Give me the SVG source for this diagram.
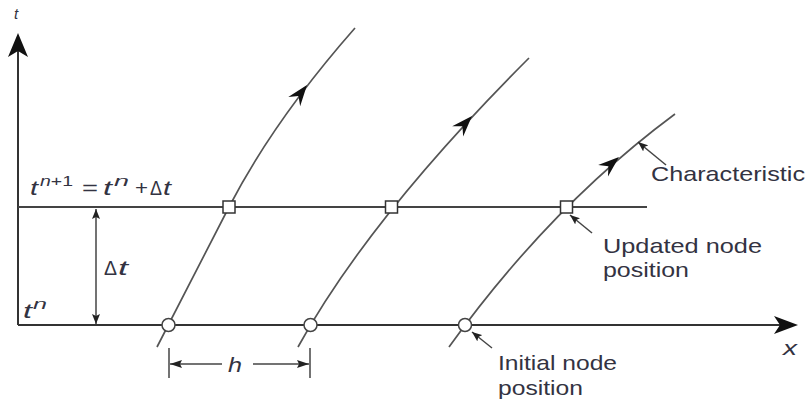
<svg xmlns="http://www.w3.org/2000/svg" xmlns:xlink="http://www.w3.org/1999/xlink" width="807" height="405" viewBox="0 0 807 405">
<style>
  .axis { stroke:#333; stroke-width:2; fill:none; }
  .grid { stroke:#444; stroke-width:1.8; fill:none; }
  .char { stroke:#555; stroke-width:1.7; fill:none; }
  .lead { stroke:#444; stroke-width:1.5; fill:none; }
  .dim { stroke:#444; stroke-width:1.5; fill:none; }
  .head { fill:#111; }
  .circ { fill:#fff; stroke:#444; stroke-width:1.5; }
  .sq { fill:#fff; stroke:#333; stroke-width:1.5; }
  text { font-family:"Liberation Sans", Arial, sans-serif; fill:#333342; }
  .lbl { font-size:21px; }
  .m { font-size:21px; }
  .it { font-style:italic; }
</style>
<defs>
  <path id="bigHead" d="M0,0 L-21,-7.5 L-14,0 L-21,7.5 Z"/>
  <marker id="sa" viewBox="0 0 10 8" refX="10" refY="4" markerWidth="10" markerHeight="8" markerUnits="userSpaceOnUse" orient="auto-start-reverse">
    <path d="M0,0 L10,4 L0,8 L2,4 Z" fill="#222"/>
  </marker>
  <marker id="da" viewBox="0 0 12 8" refX="12" refY="4" markerWidth="12" markerHeight="8" markerUnits="userSpaceOnUse" orient="auto-start-reverse">
    <path d="M0,0 L12,4 L0,8 L2,4 Z" fill="#222"/>
  </marker>
</defs>

<g id="axes">
  <line class="axis" x1="18" y1="325" x2="18" y2="48"/>
  <polygon class="head" points="18,33 8,57 18,51 28,57"/>
  <line class="axis" x1="18" y1="325" x2="785" y2="325"/>
  <polygon class="head" points="798,325 774,316 780,325 774,334"/>
  <line class="grid" x1="18" y1="207" x2="647" y2="207"/>
</g>

<g id="connectors">
  <path class="char" d="M157,347 L229,207 Q273.9,120.2 355,28"/>
  <path class="char" d="M298,347 Q368.9,218.1 529,58"/>
  <path class="char" d="M449,347 Q550.2,206.4 675,114"/>
  <use xlink:href="#bigHead" class="head" transform="translate(307,85) rotate(-52.5)"/>
  <use xlink:href="#bigHead" class="head" transform="translate(472,116) rotate(-47)"/>
  <use xlink:href="#bigHead" class="head" transform="translate(619,157) rotate(-40.7)"/>
  <line class="lead" x1="666" y1="165" x2="638" y2="142" marker-end="url(#sa)"/>
  <line class="lead" x1="592" y1="233" x2="570" y2="215" marker-end="url(#sa)"/>
  <line class="lead" x1="492" y1="348" x2="472" y2="332" marker-end="url(#sa)"/>
  <line class="dim" x1="96" y1="209" x2="96" y2="324" marker-start="url(#sa)" marker-end="url(#sa)"/>
  <line class="dim" x1="169" y1="348" x2="169" y2="378"/>
  <line class="dim" x1="310" y1="348" x2="310" y2="378"/>
  <line class="dim" x1="222" y1="364" x2="170" y2="364" marker-end="url(#da)"/>
  <line class="dim" x1="253" y1="364" x2="309" y2="364" marker-end="url(#da)"/>
</g>

<g id="node-i1"><circle class="circ" cx="168.5" cy="325" r="6.5"/></g>
<g id="node-i2"><circle class="circ" cx="310.5" cy="325" r="6.5"/></g>
<g id="node-i3"><circle class="circ" cx="465" cy="325" r="6.5"/></g>
<g id="node-u1"><rect class="sq" x="223" y="201" width="12" height="12"/></g>
<g id="node-u2"><rect class="sq" x="385.5" y="201" width="12" height="12"/></g>
<g id="node-u3"><rect class="sq" x="560.5" y="201" width="12" height="12"/></g>

<g id="labels">
  <text class="it" x="14" y="19" font-size="15">t</text>
  <text class="it" x="783" y="355" font-size="21" textLength="14" lengthAdjust="spacingAndGlyphs">x</text>

  <text class="m it" x="30" y="195" textLength="8" lengthAdjust="spacingAndGlyphs">t</text>
  <text x="40" y="186" font-size="15" textLength="33" lengthAdjust="spacingAndGlyphs"><tspan class="it">n</tspan>+1</text>
  <text class="m" x="82" y="195" textLength="16" lengthAdjust="spacingAndGlyphs">=</text>
  <text class="m it" x="103" y="195" textLength="9" lengthAdjust="spacingAndGlyphs">t</text>
  <text class="it" x="114" y="186" font-size="15" textLength="15" lengthAdjust="spacingAndGlyphs">n</text>
  <text class="m" x="135" y="195" textLength="13" lengthAdjust="spacingAndGlyphs">+</text>
  <text class="m" x="150" y="195" textLength="12" lengthAdjust="spacingAndGlyphs">Δ</text>
  <text class="m it" x="163" y="195" textLength="8" lengthAdjust="spacingAndGlyphs">t</text>

  <text class="m" x="104" y="275" textLength="13" lengthAdjust="spacingAndGlyphs">Δ</text>
  <text class="m it" x="118" y="275" textLength="10" lengthAdjust="spacingAndGlyphs">t</text>

  <text class="m it" x="23" y="318" textLength="9" lengthAdjust="spacingAndGlyphs">t</text>
  <text class="it" x="33" y="309" font-size="15" textLength="14" lengthAdjust="spacingAndGlyphs">n</text>

  <text class="m it" x="228" y="372" textLength="14" lengthAdjust="spacingAndGlyphs">h</text>

  <text class="lbl" x="651" y="181" textLength="154" lengthAdjust="spacingAndGlyphs">Characteristic</text>
  <text class="lbl" x="603" y="253" textLength="159" lengthAdjust="spacingAndGlyphs">Updated node</text>
  <text class="lbl" x="603" y="277" textLength="86" lengthAdjust="spacingAndGlyphs">position</text>
  <text class="lbl" x="498" y="370" textLength="119" lengthAdjust="spacingAndGlyphs">Initial node</text>
  <text class="lbl" x="498" y="395" textLength="85" lengthAdjust="spacingAndGlyphs">position</text>
</g>
</svg>
